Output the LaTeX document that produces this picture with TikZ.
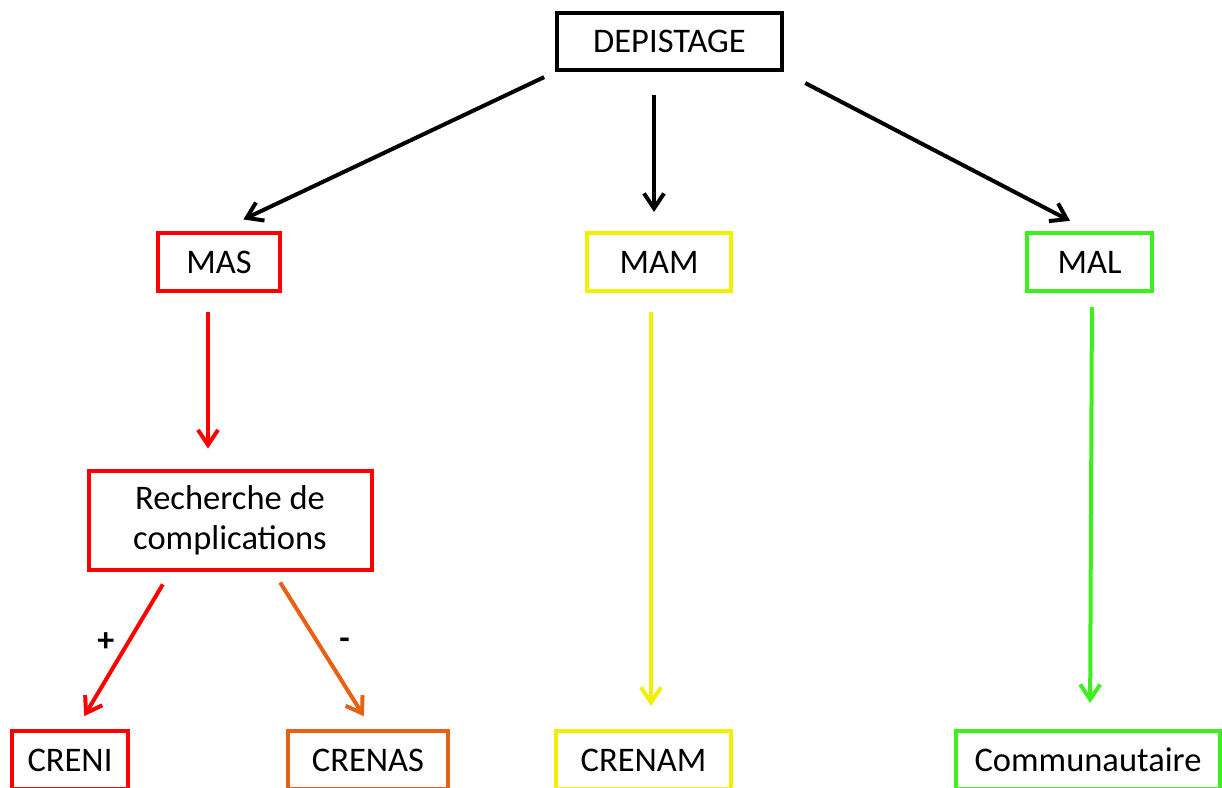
\documentclass[tikz,border=0pt]{standalone}
\usepackage{fontspec}
\setmainfont{Carlito}
\usetikzlibrary{arrows.meta}
\definecolor{masred}{RGB}{255,0,0}
\definecolor{crenasorange}{RGB}{232,96,20}
\definecolor{mamyellow}{RGB}{240,240,0}
\definecolor{malgreen}{RGB}{60,240,30}
\begin{document}
\begin{tikzpicture}[x=1pt,y=-1pt,
box/.style={draw,line width=4pt,inner sep=0pt,minimum height=58pt,font=\fontsize{34.5}{40}\selectfont},
arr/.style={line width=4pt,-{Straight Barb[length=15pt,width=20pt]}},
sign/.style={inner sep=0pt,text=black,font=\fontsize{34}{40}\selectfont\bfseries}]
\useasboundingbox (0,0) rectangle (1222,787);
\node[box,minimum width=225pt,minimum height=57pt] (dep) at (669.5,41.5) {DEPISTAGE};
\node[box,masred,text=black,minimum width=122pt] (mas) at (219,262) {MAS};
\node[box,mamyellow,text=black,minimum width=144pt] (mam) at (659,262) {MAM};
\node[box,malgreen,text=black,minimum width=125pt] (mal) at (1089.5,262) {MAL};
\node[box,masred,text=black,minimum width=283pt,minimum height=99pt,align=center] (rech) at (230,520) {Recherche de\\complications};
\node[box,masred,text=black,minimum width=116pt] (creni) at (70,760) {CRENI};
\node[box,crenasorange,text=black,minimum width=160pt] (crenas) at (368,760) {CRENAS};
\node[box,mamyellow,text=black,minimum width=175pt] (crenam) at (643.5,760) {CRENAM};
\node[box,malgreen,text=black,minimum width=264pt] (comm) at (1088,760) {Communautaire};
\draw[arr,shorten <=12pt,shorten >=27pt] (dep.south west) -- (mas.north);
\draw[arr,shorten <=23pt,shorten >=19pt] ([xshift=-15.5pt]dep.south) -- ([xshift=-5pt]mam.north);
\draw[arr,shorten <=24pt,shorten >=22pt] (dep.south east) -- (mal.north);
\draw[arr,masred,shorten <=19pt,shorten >=20pt] ([xshift=-11pt]mas.south) -- ([xshift=-22pt]rech.north);
\draw[arr,mamyellow,shorten <=19pt,shorten >=23pt] ([xshift=-8pt]mam.south) -- ([xshift=7.5pt]crenam.north);
\draw[arr,malgreen,shorten <=14pt,shorten >=26pt] ([xshift=2.5pt]mal.south) -- ([xshift=2pt]comm.north);
\draw[arr,masred,shorten <=15pt,shorten >=15pt] ([xshift=-59.5pt]rech.south) -- ([xshift=6.5pt]creni.north)
  node[sign,pos=0.45,left=12pt] (plus) {+};
\draw[arr,crenasorange,shorten <=13pt,shorten >=15pt] ([xshift=43.3pt]rech.south) -- ([xshift=3.9pt]crenas.north)
  node[sign,pos=0.457,right=19pt] (minus) {-};
\end{tikzpicture}
\end{document}
